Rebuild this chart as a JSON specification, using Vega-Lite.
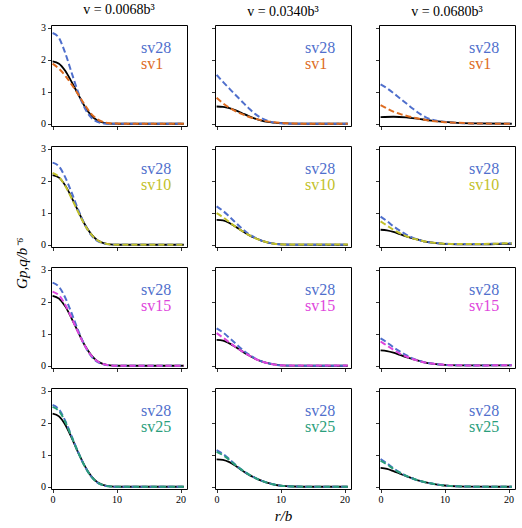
{
"$schema":"https://vega.github.io/schema/vega-lite/v6.json",
"padding":{"left":15,"top":2,"right":5,"bottom":2},
"title":{"text":"Gp,q/b⁻⁶","orient":"left","anchor":"middle","fontSize":15,"font":"Liberation Serif","fontStyle":"italic","fontWeight":"normal","offset":10},
"data":{"values":[
{"p":"11","s":"ref","x":0,"y":1.95},{"p":"11","s":"ref","x":1,"y":1.88},{"p":"11","s":"ref","x":2,"y":1.65},{"p":"11","s":"ref","x":3,"y":1.30},{"p":"11","s":"ref","x":4,"y":0.92},{"p":"11","s":"ref","x":5,"y":0.55},{"p":"11","s":"ref","x":6,"y":0.27},{"p":"11","s":"ref","x":7,"y":0.10},{"p":"11","s":"ref","x":8,"y":0.03},{"p":"11","s":"ref","x":9,"y":0.005},{"p":"11","s":"ref","x":10,"y":0},{"p":"11","s":"ref","x":20.5,"y":0},
{"p":"11","s":"sv28","x":0,"y":2.84},{"p":"11","s":"sv28","x":1,"y":2.68},{"p":"11","s":"sv28","x":2,"y":2.20},{"p":"11","s":"sv28","x":3,"y":1.58},{"p":"11","s":"sv28","x":4,"y":0.98},{"p":"11","s":"sv28","x":5,"y":0.50},{"p":"11","s":"sv28","x":6,"y":0.20},{"p":"11","s":"sv28","x":7,"y":0.06},{"p":"11","s":"sv28","x":8,"y":0.01},{"p":"11","s":"sv28","x":9,"y":0},{"p":"11","s":"sv28","x":20.5,"y":0},
{"p":"11","s":"sv1","x":0,"y":1.88},{"p":"11","s":"sv1","x":1,"y":1.72},{"p":"11","s":"sv1","x":2,"y":1.50},{"p":"11","s":"sv1","x":3,"y":1.22},{"p":"11","s":"sv1","x":4,"y":0.92},{"p":"11","s":"sv1","x":5,"y":0.60},{"p":"11","s":"sv1","x":6,"y":0.32},{"p":"11","s":"sv1","x":7,"y":0.14},{"p":"11","s":"sv1","x":8,"y":0.05},{"p":"11","s":"sv1","x":9,"y":0.015},{"p":"11","s":"sv1","x":10,"y":0.005},{"p":"11","s":"sv1","x":12,"y":0},{"p":"11","s":"sv1","x":20.5,"y":0},
{"p":"12","s":"ref","x":0,"y":0.54},{"p":"12","s":"ref","x":1,"y":0.53},{"p":"12","s":"ref","x":2,"y":0.49},{"p":"12","s":"ref","x":3,"y":0.42},{"p":"12","s":"ref","x":4,"y":0.33},{"p":"12","s":"ref","x":5,"y":0.24},{"p":"12","s":"ref","x":6,"y":0.16},{"p":"12","s":"ref","x":7,"y":0.10},{"p":"12","s":"ref","x":8,"y":0.06},{"p":"12","s":"ref","x":10,"y":0.02},{"p":"12","s":"ref","x":12,"y":0.005},{"p":"12","s":"ref","x":15,"y":0},{"p":"12","s":"ref","x":20.5,"y":0},
{"p":"12","s":"sv28","x":0,"y":1.53},{"p":"12","s":"sv28","x":1,"y":1.31},{"p":"12","s":"sv28","x":2,"y":1.10},{"p":"12","s":"sv28","x":3,"y":0.89},{"p":"12","s":"sv28","x":4,"y":0.69},{"p":"12","s":"sv28","x":5,"y":0.49},{"p":"12","s":"sv28","x":6,"y":0.31},{"p":"12","s":"sv28","x":7,"y":0.18},{"p":"12","s":"sv28","x":8,"y":0.09},{"p":"12","s":"sv28","x":9,"y":0.04},{"p":"12","s":"sv28","x":10,"y":0.015},{"p":"12","s":"sv28","x":12,"y":0},{"p":"12","s":"sv28","x":20.5,"y":0},
{"p":"12","s":"sv1","x":0,"y":0.81},{"p":"12","s":"sv1","x":1,"y":0.64},{"p":"12","s":"sv1","x":2,"y":0.50},{"p":"12","s":"sv1","x":3,"y":0.39},{"p":"12","s":"sv1","x":4,"y":0.30},{"p":"12","s":"sv1","x":5,"y":0.22},{"p":"12","s":"sv1","x":6,"y":0.16},{"p":"12","s":"sv1","x":7,"y":0.11},{"p":"12","s":"sv1","x":8,"y":0.075},{"p":"12","s":"sv1","x":10,"y":0.03},{"p":"12","s":"sv1","x":12,"y":0.01},{"p":"12","s":"sv1","x":15,"y":0},{"p":"12","s":"sv1","x":20.5,"y":0},
{"p":"13","s":"ref","x":0,"y":0.21},{"p":"13","s":"ref","x":2,"y":0.22},{"p":"13","s":"ref","x":4,"y":0.20},{"p":"13","s":"ref","x":6,"y":0.15},{"p":"13","s":"ref","x":8,"y":0.10},{"p":"13","s":"ref","x":10,"y":0.06},{"p":"13","s":"ref","x":12,"y":0.03},{"p":"13","s":"ref","x":15,"y":0.01},{"p":"13","s":"ref","x":20.5,"y":0},
{"p":"13","s":"sv28","x":0,"y":1.23},{"p":"13","s":"sv28","x":1,"y":1.11},{"p":"13","s":"sv28","x":2,"y":0.96},{"p":"13","s":"sv28","x":3,"y":0.80},{"p":"13","s":"sv28","x":4,"y":0.64},{"p":"13","s":"sv28","x":5,"y":0.48},{"p":"13","s":"sv28","x":6,"y":0.33},{"p":"13","s":"sv28","x":7,"y":0.21},{"p":"13","s":"sv28","x":8,"y":0.13},{"p":"13","s":"sv28","x":9,"y":0.09},{"p":"13","s":"sv28","x":10,"y":0.06},{"p":"13","s":"sv28","x":12,"y":0.025},{"p":"13","s":"sv28","x":15,"y":0.008},{"p":"13","s":"sv28","x":20.5,"y":0},
{"p":"13","s":"sv1","x":0,"y":0.58},{"p":"13","s":"sv1","x":1,"y":0.48},{"p":"13","s":"sv1","x":2,"y":0.38},{"p":"13","s":"sv1","x":3,"y":0.31},{"p":"13","s":"sv1","x":4,"y":0.25},{"p":"13","s":"sv1","x":5,"y":0.20},{"p":"13","s":"sv1","x":6,"y":0.16},{"p":"13","s":"sv1","x":7,"y":0.12},{"p":"13","s":"sv1","x":8,"y":0.09},{"p":"13","s":"sv1","x":10,"y":0.05},{"p":"13","s":"sv1","x":12,"y":0.03},{"p":"13","s":"sv1","x":15,"y":0.01},{"p":"13","s":"sv1","x":20.5,"y":0},
{"p":"21","s":"ref","x":0,"y":2.18},{"p":"21","s":"ref","x":1,"y":2.10},{"p":"21","s":"ref","x":2,"y":1.85},{"p":"21","s":"ref","x":3,"y":1.47},{"p":"21","s":"ref","x":4,"y":1.05},{"p":"21","s":"ref","x":5,"y":0.65},{"p":"21","s":"ref","x":6,"y":0.34},{"p":"21","s":"ref","x":7,"y":0.14},{"p":"21","s":"ref","x":8,"y":0.05},{"p":"21","s":"ref","x":9,"y":0.01},{"p":"21","s":"ref","x":10,"y":0},{"p":"21","s":"ref","x":20.5,"y":0},
{"p":"21","s":"sv28","x":0,"y":2.57},{"p":"21","s":"sv28","x":1,"y":2.45},{"p":"21","s":"sv28","x":2,"y":2.10},{"p":"21","s":"sv28","x":3,"y":1.62},{"p":"21","s":"sv28","x":4,"y":1.10},{"p":"21","s":"sv28","x":5,"y":0.64},{"p":"21","s":"sv28","x":6,"y":0.31},{"p":"21","s":"sv28","x":7,"y":0.12},{"p":"21","s":"sv28","x":8,"y":0.04},{"p":"21","s":"sv28","x":9,"y":0.01},{"p":"21","s":"sv28","x":10,"y":0},{"p":"21","s":"sv28","x":20.5,"y":0},
{"p":"21","s":"sv10","x":0,"y":2.25},{"p":"21","s":"sv10","x":1,"y":2.12},{"p":"21","s":"sv10","x":2,"y":1.83},{"p":"21","s":"sv10","x":3,"y":1.44},{"p":"21","s":"sv10","x":4,"y":1.02},{"p":"21","s":"sv10","x":5,"y":0.63},{"p":"21","s":"sv10","x":6,"y":0.33},{"p":"21","s":"sv10","x":7,"y":0.14},{"p":"21","s":"sv10","x":8,"y":0.05},{"p":"21","s":"sv10","x":9,"y":0.01},{"p":"21","s":"sv10","x":10,"y":0},{"p":"21","s":"sv10","x":20.5,"y":0},
{"p":"22","s":"ref","x":0,"y":0.78},{"p":"22","s":"ref","x":1,"y":0.76},{"p":"22","s":"ref","x":2,"y":0.68},{"p":"22","s":"ref","x":3,"y":0.56},{"p":"22","s":"ref","x":4,"y":0.43},{"p":"22","s":"ref","x":5,"y":0.31},{"p":"22","s":"ref","x":6,"y":0.21},{"p":"22","s":"ref","x":7,"y":0.13},{"p":"22","s":"ref","x":8,"y":0.07},{"p":"22","s":"ref","x":9,"y":0.035},{"p":"22","s":"ref","x":10,"y":0.015},{"p":"22","s":"ref","x":12,"y":0.003},{"p":"22","s":"ref","x":20.5,"y":0},
{"p":"22","s":"sv28","x":0,"y":1.20},{"p":"22","s":"sv28","x":1,"y":1.06},{"p":"22","s":"sv28","x":2,"y":0.88},{"p":"22","s":"sv28","x":3,"y":0.69},{"p":"22","s":"sv28","x":4,"y":0.50},{"p":"22","s":"sv28","x":5,"y":0.34},{"p":"22","s":"sv28","x":6,"y":0.22},{"p":"22","s":"sv28","x":7,"y":0.13},{"p":"22","s":"sv28","x":8,"y":0.07},{"p":"22","s":"sv28","x":9,"y":0.035},{"p":"22","s":"sv28","x":10,"y":0.015},{"p":"22","s":"sv28","x":12,"y":0},{"p":"22","s":"sv28","x":20.5,"y":0},
{"p":"22","s":"sv10","x":0,"y":0.99},{"p":"22","s":"sv10","x":1,"y":0.86},{"p":"22","s":"sv10","x":2,"y":0.71},{"p":"22","s":"sv10","x":3,"y":0.56},{"p":"22","s":"sv10","x":4,"y":0.43},{"p":"22","s":"sv10","x":5,"y":0.31},{"p":"22","s":"sv10","x":6,"y":0.21},{"p":"22","s":"sv10","x":7,"y":0.13},{"p":"22","s":"sv10","x":8,"y":0.07},{"p":"22","s":"sv10","x":9,"y":0.035},{"p":"22","s":"sv10","x":10,"y":0.015},{"p":"22","s":"sv10","x":12,"y":0.005},{"p":"22","s":"sv10","x":20.5,"y":0.01},
{"p":"23","s":"ref","x":0,"y":0.47},{"p":"23","s":"ref","x":1,"y":0.45},{"p":"23","s":"ref","x":2,"y":0.40},{"p":"23","s":"ref","x":3,"y":0.33},{"p":"23","s":"ref","x":4,"y":0.26},{"p":"23","s":"ref","x":5,"y":0.20},{"p":"23","s":"ref","x":6,"y":0.15},{"p":"23","s":"ref","x":7,"y":0.10},{"p":"23","s":"ref","x":8,"y":0.07},{"p":"23","s":"ref","x":10,"y":0.03},{"p":"23","s":"ref","x":12,"y":0.015},{"p":"23","s":"ref","x":15,"y":0.01},{"p":"23","s":"ref","x":18,"y":0.02},{"p":"23","s":"ref","x":20.5,"y":0.03},
{"p":"23","s":"sv28","x":0,"y":0.88},{"p":"23","s":"sv28","x":1,"y":0.74},{"p":"23","s":"sv28","x":2,"y":0.58},{"p":"23","s":"sv28","x":3,"y":0.44},{"p":"23","s":"sv28","x":4,"y":0.32},{"p":"23","s":"sv28","x":5,"y":0.22},{"p":"23","s":"sv28","x":6,"y":0.15},{"p":"23","s":"sv28","x":7,"y":0.10},{"p":"23","s":"sv28","x":8,"y":0.07},{"p":"23","s":"sv28","x":10,"y":0.03},{"p":"23","s":"sv28","x":12,"y":0.02},{"p":"23","s":"sv28","x":15,"y":0.02},{"p":"23","s":"sv28","x":18,"y":0.035},{"p":"23","s":"sv28","x":20.5,"y":0.05},
{"p":"23","s":"sv10","x":0,"y":0.73},{"p":"23","s":"sv10","x":1,"y":0.60},{"p":"23","s":"sv10","x":2,"y":0.47},{"p":"23","s":"sv10","x":3,"y":0.36},{"p":"23","s":"sv10","x":4,"y":0.27},{"p":"23","s":"sv10","x":5,"y":0.20},{"p":"23","s":"sv10","x":6,"y":0.15},{"p":"23","s":"sv10","x":7,"y":0.10},{"p":"23","s":"sv10","x":8,"y":0.07},{"p":"23","s":"sv10","x":10,"y":0.03},{"p":"23","s":"sv10","x":12,"y":0.02},{"p":"23","s":"sv10","x":15,"y":0.02},{"p":"23","s":"sv10","x":18,"y":0.035},{"p":"23","s":"sv10","x":20.5,"y":0.05},
{"p":"31","s":"ref","x":0,"y":2.19},{"p":"31","s":"ref","x":1,"y":2.10},{"p":"31","s":"ref","x":2,"y":1.85},{"p":"31","s":"ref","x":3,"y":1.47},{"p":"31","s":"ref","x":4,"y":1.05},{"p":"31","s":"ref","x":5,"y":0.65},{"p":"31","s":"ref","x":6,"y":0.34},{"p":"31","s":"ref","x":7,"y":0.14},{"p":"31","s":"ref","x":8,"y":0.05},{"p":"31","s":"ref","x":9,"y":0.01},{"p":"31","s":"ref","x":10,"y":0},{"p":"31","s":"ref","x":20.5,"y":0},
{"p":"31","s":"sv28","x":0,"y":2.60},{"p":"31","s":"sv28","x":1,"y":2.47},{"p":"31","s":"sv28","x":2,"y":2.12},{"p":"31","s":"sv28","x":3,"y":1.63},{"p":"31","s":"sv28","x":4,"y":1.10},{"p":"31","s":"sv28","x":5,"y":0.64},{"p":"31","s":"sv28","x":6,"y":0.31},{"p":"31","s":"sv28","x":7,"y":0.12},{"p":"31","s":"sv28","x":8,"y":0.04},{"p":"31","s":"sv28","x":9,"y":0.01},{"p":"31","s":"sv28","x":10,"y":0},{"p":"31","s":"sv28","x":20.5,"y":0},
{"p":"31","s":"sv15","x":0,"y":2.32},{"p":"31","s":"sv15","x":1,"y":2.20},{"p":"31","s":"sv15","x":2,"y":1.90},{"p":"31","s":"sv15","x":3,"y":1.48},{"p":"31","s":"sv15","x":4,"y":1.04},{"p":"31","s":"sv15","x":5,"y":0.64},{"p":"31","s":"sv15","x":6,"y":0.33},{"p":"31","s":"sv15","x":7,"y":0.14},{"p":"31","s":"sv15","x":8,"y":0.05},{"p":"31","s":"sv15","x":9,"y":0.01},{"p":"31","s":"sv15","x":10,"y":0},{"p":"31","s":"sv15","x":20.5,"y":0},
{"p":"32","s":"ref","x":0,"y":0.81},{"p":"32","s":"ref","x":1,"y":0.79},{"p":"32","s":"ref","x":2,"y":0.70},{"p":"32","s":"ref","x":3,"y":0.58},{"p":"32","s":"ref","x":4,"y":0.45},{"p":"32","s":"ref","x":5,"y":0.33},{"p":"32","s":"ref","x":6,"y":0.22},{"p":"32","s":"ref","x":7,"y":0.14},{"p":"32","s":"ref","x":8,"y":0.08},{"p":"32","s":"ref","x":9,"y":0.04},{"p":"32","s":"ref","x":10,"y":0.015},{"p":"32","s":"ref","x":12,"y":0.003},{"p":"32","s":"ref","x":20.5,"y":0},
{"p":"32","s":"sv28","x":0,"y":1.17},{"p":"32","s":"sv28","x":1,"y":1.04},{"p":"32","s":"sv28","x":2,"y":0.87},{"p":"32","s":"sv28","x":3,"y":0.69},{"p":"32","s":"sv28","x":4,"y":0.51},{"p":"32","s":"sv28","x":5,"y":0.36},{"p":"32","s":"sv28","x":6,"y":0.23},{"p":"32","s":"sv28","x":7,"y":0.14},{"p":"32","s":"sv28","x":8,"y":0.08},{"p":"32","s":"sv28","x":9,"y":0.04},{"p":"32","s":"sv28","x":10,"y":0.015},{"p":"32","s":"sv28","x":12,"y":0},{"p":"32","s":"sv28","x":20.5,"y":0},
{"p":"32","s":"sv15","x":0,"y":1.02},{"p":"32","s":"sv15","x":1,"y":0.88},{"p":"32","s":"sv15","x":2,"y":0.73},{"p":"32","s":"sv15","x":3,"y":0.58},{"p":"32","s":"sv15","x":4,"y":0.45},{"p":"32","s":"sv15","x":5,"y":0.33},{"p":"32","s":"sv15","x":6,"y":0.22},{"p":"32","s":"sv15","x":7,"y":0.14},{"p":"32","s":"sv15","x":8,"y":0.08},{"p":"32","s":"sv15","x":9,"y":0.04},{"p":"32","s":"sv15","x":10,"y":0.015},{"p":"32","s":"sv15","x":12,"y":0.005},{"p":"32","s":"sv15","x":20.5,"y":0.01},
{"p":"33","s":"ref","x":0,"y":0.48},{"p":"33","s":"ref","x":1,"y":0.46},{"p":"33","s":"ref","x":2,"y":0.41},{"p":"33","s":"ref","x":3,"y":0.34},{"p":"33","s":"ref","x":4,"y":0.27},{"p":"33","s":"ref","x":5,"y":0.21},{"p":"33","s":"ref","x":6,"y":0.15},{"p":"33","s":"ref","x":7,"y":0.10},{"p":"33","s":"ref","x":8,"y":0.07},{"p":"33","s":"ref","x":10,"y":0.03},{"p":"33","s":"ref","x":12,"y":0.015},{"p":"33","s":"ref","x":15,"y":0.01},{"p":"33","s":"ref","x":20.5,"y":0.01},
{"p":"33","s":"sv28","x":0,"y":0.86},{"p":"33","s":"sv28","x":1,"y":0.73},{"p":"33","s":"sv28","x":2,"y":0.58},{"p":"33","s":"sv28","x":3,"y":0.45},{"p":"33","s":"sv28","x":4,"y":0.33},{"p":"33","s":"sv28","x":5,"y":0.23},{"p":"33","s":"sv28","x":6,"y":0.16},{"p":"33","s":"sv28","x":7,"y":0.10},{"p":"33","s":"sv28","x":8,"y":0.07},{"p":"33","s":"sv28","x":10,"y":0.03},{"p":"33","s":"sv28","x":12,"y":0.015},{"p":"33","s":"sv28","x":15,"y":0.01},{"p":"33","s":"sv28","x":20.5,"y":0.02},
{"p":"33","s":"sv15","x":0,"y":0.76},{"p":"33","s":"sv15","x":1,"y":0.63},{"p":"33","s":"sv15","x":2,"y":0.50},{"p":"33","s":"sv15","x":3,"y":0.38},{"p":"33","s":"sv15","x":4,"y":0.29},{"p":"33","s":"sv15","x":5,"y":0.21},{"p":"33","s":"sv15","x":6,"y":0.15},{"p":"33","s":"sv15","x":7,"y":0.10},{"p":"33","s":"sv15","x":8,"y":0.07},{"p":"33","s":"sv15","x":10,"y":0.03},{"p":"33","s":"sv15","x":12,"y":0.015},{"p":"33","s":"sv15","x":15,"y":0.01},{"p":"33","s":"sv15","x":20.5,"y":0.02},
{"p":"41","s":"ref","x":0,"y":2.29},{"p":"41","s":"ref","x":1,"y":2.20},{"p":"41","s":"ref","x":2,"y":1.93},{"p":"41","s":"ref","x":3,"y":1.52},{"p":"41","s":"ref","x":4,"y":1.07},{"p":"41","s":"ref","x":5,"y":0.66},{"p":"41","s":"ref","x":6,"y":0.34},{"p":"41","s":"ref","x":7,"y":0.14},{"p":"41","s":"ref","x":8,"y":0.05},{"p":"41","s":"ref","x":9,"y":0.01},{"p":"41","s":"ref","x":10,"y":0},{"p":"41","s":"ref","x":20.5,"y":0},
{"p":"41","s":"sv28","x":0,"y":2.56},{"p":"41","s":"sv28","x":1,"y":2.42},{"p":"41","s":"sv28","x":2,"y":2.05},{"p":"41","s":"sv28","x":3,"y":1.57},{"p":"41","s":"sv28","x":4,"y":1.08},{"p":"41","s":"sv28","x":5,"y":0.65},{"p":"41","s":"sv28","x":6,"y":0.33},{"p":"41","s":"sv28","x":7,"y":0.13},{"p":"41","s":"sv28","x":8,"y":0.04},{"p":"41","s":"sv28","x":9,"y":0.01},{"p":"41","s":"sv28","x":10,"y":0},{"p":"41","s":"sv28","x":20.5,"y":0},
{"p":"41","s":"sv25","x":0,"y":2.50},{"p":"41","s":"sv25","x":1,"y":2.37},{"p":"41","s":"sv25","x":2,"y":2.02},{"p":"41","s":"sv25","x":3,"y":1.55},{"p":"41","s":"sv25","x":4,"y":1.07},{"p":"41","s":"sv25","x":5,"y":0.65},{"p":"41","s":"sv25","x":6,"y":0.33},{"p":"41","s":"sv25","x":7,"y":0.13},{"p":"41","s":"sv25","x":8,"y":0.045},{"p":"41","s":"sv25","x":9,"y":0.01},{"p":"41","s":"sv25","x":10,"y":0},{"p":"41","s":"sv25","x":20.5,"y":0},
{"p":"42","s":"ref","x":0,"y":0.86},{"p":"42","s":"ref","x":1,"y":0.84},{"p":"42","s":"ref","x":2,"y":0.77},{"p":"42","s":"ref","x":3,"y":0.65},{"p":"42","s":"ref","x":4,"y":0.51},{"p":"42","s":"ref","x":5,"y":0.38},{"p":"42","s":"ref","x":6,"y":0.28},{"p":"42","s":"ref","x":7,"y":0.19},{"p":"42","s":"ref","x":8,"y":0.12},{"p":"42","s":"ref","x":9,"y":0.07},{"p":"42","s":"ref","x":10,"y":0.035},{"p":"42","s":"ref","x":12,"y":0.008},{"p":"42","s":"ref","x":15,"y":0},{"p":"42","s":"ref","x":20.5,"y":0},
{"p":"42","s":"sv28","x":0,"y":1.15},{"p":"42","s":"sv28","x":1,"y":1.03},{"p":"42","s":"sv28","x":2,"y":0.86},{"p":"42","s":"sv28","x":3,"y":0.68},{"p":"42","s":"sv28","x":4,"y":0.52},{"p":"42","s":"sv28","x":5,"y":0.39},{"p":"42","s":"sv28","x":6,"y":0.28},{"p":"42","s":"sv28","x":7,"y":0.19},{"p":"42","s":"sv28","x":8,"y":0.12},{"p":"42","s":"sv28","x":9,"y":0.07},{"p":"42","s":"sv28","x":10,"y":0.035},{"p":"42","s":"sv28","x":12,"y":0.008},{"p":"42","s":"sv28","x":15,"y":0},{"p":"42","s":"sv28","x":20.5,"y":0},
{"p":"42","s":"sv25","x":0,"y":1.09},{"p":"42","s":"sv25","x":1,"y":0.99},{"p":"42","s":"sv25","x":2,"y":0.84},{"p":"42","s":"sv25","x":3,"y":0.67},{"p":"42","s":"sv25","x":4,"y":0.52},{"p":"42","s":"sv25","x":5,"y":0.39},{"p":"42","s":"sv25","x":6,"y":0.28},{"p":"42","s":"sv25","x":7,"y":0.19},{"p":"42","s":"sv25","x":8,"y":0.12},{"p":"42","s":"sv25","x":9,"y":0.07},{"p":"42","s":"sv25","x":10,"y":0.035},{"p":"42","s":"sv25","x":12,"y":0.008},{"p":"42","s":"sv25","x":15,"y":0},{"p":"42","s":"sv25","x":20.5,"y":0},
{"p":"43","s":"ref","x":0,"y":0.59},{"p":"43","s":"ref","x":1,"y":0.56},{"p":"43","s":"ref","x":2,"y":0.49},{"p":"43","s":"ref","x":3,"y":0.41},{"p":"43","s":"ref","x":4,"y":0.33},{"p":"43","s":"ref","x":5,"y":0.26},{"p":"43","s":"ref","x":6,"y":0.19},{"p":"43","s":"ref","x":7,"y":0.14},{"p":"43","s":"ref","x":8,"y":0.10},{"p":"43","s":"ref","x":10,"y":0.04},{"p":"43","s":"ref","x":12,"y":0.015},{"p":"43","s":"ref","x":15,"y":0.003},{"p":"43","s":"ref","x":20.5,"y":0},
{"p":"43","s":"sv28","x":0,"y":0.87},{"p":"43","s":"sv28","x":1,"y":0.73},{"p":"43","s":"sv28","x":2,"y":0.58},{"p":"43","s":"sv28","x":3,"y":0.45},{"p":"43","s":"sv28","x":4,"y":0.34},{"p":"43","s":"sv28","x":5,"y":0.26},{"p":"43","s":"sv28","x":6,"y":0.19},{"p":"43","s":"sv28","x":7,"y":0.14},{"p":"43","s":"sv28","x":8,"y":0.10},{"p":"43","s":"sv28","x":10,"y":0.04},{"p":"43","s":"sv28","x":12,"y":0.015},{"p":"43","s":"sv28","x":15,"y":0.003},{"p":"43","s":"sv28","x":20.5,"y":0},
{"p":"43","s":"sv25","x":0,"y":0.82},{"p":"43","s":"sv25","x":1,"y":0.70},{"p":"43","s":"sv25","x":2,"y":0.56},{"p":"43","s":"sv25","x":3,"y":0.44},{"p":"43","s":"sv25","x":4,"y":0.34},{"p":"43","s":"sv25","x":5,"y":0.26},{"p":"43","s":"sv25","x":6,"y":0.19},{"p":"43","s":"sv25","x":7,"y":0.14},{"p":"43","s":"sv25","x":8,"y":0.10},{"p":"43","s":"sv25","x":10,"y":0.04},{"p":"43","s":"sv25","x":12,"y":0.015},{"p":"43","s":"sv25","x":15,"y":0.003},{"p":"43","s":"sv25","x":20.5,"y":0}
]},
"resolve":{"scale":{"color":"independent"},"legend":{"color":"independent"}},
"spacing":12,
"vconcat":[
{"hconcat":[
{"width":136,"height":101,"title":{"text":"v = 0.0068b³","fontWeight":"normal"},"transform":[{"filter":"datum.p=='11'"}],
 "encoding":{"x":{"field":"x","type":"quantitative","scale":{"domain":[-0.25,21],"nice":false,"zero":false},"axis":{"values":[0,10,20],"labels":false,"title":null}},
  "y":{"field":"y","type":"quantitative","scale":{"domain":[-0.07,3.09],"nice":false,"zero":false},"axis":{"values":[0,1,2,3],"labels":true,"title":null}},
  "color":{"field":"s","type":"nominal","scale":{"domain":["sv28","sv1"],"range":["#4f6fcc","#dd6b1f"]},"legend":{"encode":{"labels":{"update":{"fill":{"signal":"datum.value=='sv28'?'#4f6fcc':'#dd6b1f'"}}}}}}},
 "layer":[
  {"transform":[{"filter":"datum.s=='ref'"}],"mark":{"type":"line","strokeWidth":1.8,"interpolate":"monotone"},"encoding":{"color":{"value":"black"}}},
  {"transform":[{"filter":"datum.s=='sv28'"}],"mark":{"type":"line","strokeWidth":2,"strokeDash":[6,3],"interpolate":"monotone"}},
  {"transform":[{"filter":"datum.s!='ref' && datum.s!='sv28'"}],"mark":{"type":"line","strokeWidth":2,"strokeDash":[6,3],"interpolate":"monotone"}}]},
{"width":136,"height":101,"title":{"text":"v = 0.0340b³","fontWeight":"normal"},"transform":[{"filter":"datum.p=='12'"}],
 "encoding":{"x":{"field":"x","type":"quantitative","scale":{"domain":[-0.25,21],"nice":false,"zero":false},"axis":{"values":[0,10,20],"labels":false,"title":null}},
  "y":{"field":"y","type":"quantitative","scale":{"domain":[-0.07,3.09],"nice":false,"zero":false},"axis":{"values":[0,1,2,3],"labels":false,"title":null}},
  "color":{"field":"s","type":"nominal","scale":{"domain":["sv28","sv1"],"range":["#4f6fcc","#dd6b1f"]},"legend":{"encode":{"labels":{"update":{"fill":{"signal":"datum.value=='sv28'?'#4f6fcc':'#dd6b1f'"}}}}}}},
 "layer":[
  {"transform":[{"filter":"datum.s=='ref'"}],"mark":{"type":"line","strokeWidth":1.8,"interpolate":"monotone"},"encoding":{"color":{"value":"black"}}},
  {"transform":[{"filter":"datum.s=='sv28'"}],"mark":{"type":"line","strokeWidth":2,"strokeDash":[6,3],"interpolate":"monotone"}},
  {"transform":[{"filter":"datum.s!='ref' && datum.s!='sv28'"}],"mark":{"type":"line","strokeWidth":2,"strokeDash":[6,3],"interpolate":"monotone"}}]},
{"width":136,"height":101,"title":{"text":"v = 0.0680b³","fontWeight":"normal"},"transform":[{"filter":"datum.p=='13'"}],
 "encoding":{"x":{"field":"x","type":"quantitative","scale":{"domain":[-0.25,21],"nice":false,"zero":false},"axis":{"values":[0,10,20],"labels":false,"title":null}},
  "y":{"field":"y","type":"quantitative","scale":{"domain":[-0.07,3.09],"nice":false,"zero":false},"axis":{"values":[0,1,2,3],"labels":false,"title":null}},
  "color":{"field":"s","type":"nominal","scale":{"domain":["sv28","sv1"],"range":["#4f6fcc","#dd6b1f"]},"legend":{"encode":{"labels":{"update":{"fill":{"signal":"datum.value=='sv28'?'#4f6fcc':'#dd6b1f'"}}}}}}},
 "layer":[
  {"transform":[{"filter":"datum.s=='ref'"}],"mark":{"type":"line","strokeWidth":1.8,"interpolate":"monotone"},"encoding":{"color":{"value":"black"}}},
  {"transform":[{"filter":"datum.s=='sv28'"}],"mark":{"type":"line","strokeWidth":2,"strokeDash":[6,3],"interpolate":"monotone"}},
  {"transform":[{"filter":"datum.s!='ref' && datum.s!='sv28'"}],"mark":{"type":"line","strokeWidth":2,"strokeDash":[6,3],"interpolate":"monotone"}}]}
],"spacing":21,"resolve":{"scale":{"color":"independent"},"legend":{"color":"independent"}}},
{"hconcat":[
{"width":136,"height":101,"transform":[{"filter":"datum.p=='21'"}],
 "encoding":{"x":{"field":"x","type":"quantitative","scale":{"domain":[-0.25,21],"nice":false,"zero":false},"axis":{"values":[0,10,20],"labels":false,"title":null}},
  "y":{"field":"y","type":"quantitative","scale":{"domain":[-0.07,3.09],"nice":false,"zero":false},"axis":{"values":[0,1,2,3],"labels":true,"title":null}},
  "color":{"field":"s","type":"nominal","scale":{"domain":["sv28","sv10"],"range":["#4f6fcc","#c2c12a"]},"legend":{"encode":{"labels":{"update":{"fill":{"signal":"datum.value=='sv28'?'#4f6fcc':'#c2c12a'"}}}}}}},
 "layer":[
  {"transform":[{"filter":"datum.s=='ref'"}],"mark":{"type":"line","strokeWidth":1.8,"interpolate":"monotone"},"encoding":{"color":{"value":"black"}}},
  {"transform":[{"filter":"datum.s=='sv28'"}],"mark":{"type":"line","strokeWidth":2,"strokeDash":[6,3],"interpolate":"monotone"}},
  {"transform":[{"filter":"datum.s!='ref' && datum.s!='sv28'"}],"mark":{"type":"line","strokeWidth":2,"strokeDash":[6,3],"interpolate":"monotone"}}]},
{"width":136,"height":101,"transform":[{"filter":"datum.p=='22'"}],
 "encoding":{"x":{"field":"x","type":"quantitative","scale":{"domain":[-0.25,21],"nice":false,"zero":false},"axis":{"values":[0,10,20],"labels":false,"title":null}},
  "y":{"field":"y","type":"quantitative","scale":{"domain":[-0.07,3.09],"nice":false,"zero":false},"axis":{"values":[0,1,2,3],"labels":false,"title":null}},
  "color":{"field":"s","type":"nominal","scale":{"domain":["sv28","sv10"],"range":["#4f6fcc","#c2c12a"]},"legend":{"encode":{"labels":{"update":{"fill":{"signal":"datum.value=='sv28'?'#4f6fcc':'#c2c12a'"}}}}}}},
 "layer":[
  {"transform":[{"filter":"datum.s=='ref'"}],"mark":{"type":"line","strokeWidth":1.8,"interpolate":"monotone"},"encoding":{"color":{"value":"black"}}},
  {"transform":[{"filter":"datum.s=='sv28'"}],"mark":{"type":"line","strokeWidth":2,"strokeDash":[6,3],"interpolate":"monotone"}},
  {"transform":[{"filter":"datum.s!='ref' && datum.s!='sv28'"}],"mark":{"type":"line","strokeWidth":2,"strokeDash":[6,3],"interpolate":"monotone"}}]},
{"width":136,"height":101,"transform":[{"filter":"datum.p=='23'"}],
 "encoding":{"x":{"field":"x","type":"quantitative","scale":{"domain":[-0.25,21],"nice":false,"zero":false},"axis":{"values":[0,10,20],"labels":false,"title":null}},
  "y":{"field":"y","type":"quantitative","scale":{"domain":[-0.07,3.09],"nice":false,"zero":false},"axis":{"values":[0,1,2,3],"labels":false,"title":null}},
  "color":{"field":"s","type":"nominal","scale":{"domain":["sv28","sv10"],"range":["#4f6fcc","#c2c12a"]},"legend":{"encode":{"labels":{"update":{"fill":{"signal":"datum.value=='sv28'?'#4f6fcc':'#c2c12a'"}}}}}}},
 "layer":[
  {"transform":[{"filter":"datum.s=='ref'"}],"mark":{"type":"line","strokeWidth":1.8,"interpolate":"monotone"},"encoding":{"color":{"value":"black"}}},
  {"transform":[{"filter":"datum.s=='sv28'"}],"mark":{"type":"line","strokeWidth":2,"strokeDash":[6,3],"interpolate":"monotone"}},
  {"transform":[{"filter":"datum.s!='ref' && datum.s!='sv28'"}],"mark":{"type":"line","strokeWidth":2,"strokeDash":[6,3],"interpolate":"monotone"}}]}
],"spacing":21,"resolve":{"scale":{"color":"independent"},"legend":{"color":"independent"}}},
{"hconcat":[
{"width":136,"height":101,"transform":[{"filter":"datum.p=='31'"}],
 "encoding":{"x":{"field":"x","type":"quantitative","scale":{"domain":[-0.25,21],"nice":false,"zero":false},"axis":{"values":[0,10,20],"labels":false,"title":null}},
  "y":{"field":"y","type":"quantitative","scale":{"domain":[-0.07,3.09],"nice":false,"zero":false},"axis":{"values":[0,1,2,3],"labels":true,"title":null}},
  "color":{"field":"s","type":"nominal","scale":{"domain":["sv28","sv15"],"range":["#4f6fcc","#de45dc"]},"legend":{"encode":{"labels":{"update":{"fill":{"signal":"datum.value=='sv28'?'#4f6fcc':'#de45dc'"}}}}}}},
 "layer":[
  {"transform":[{"filter":"datum.s=='ref'"}],"mark":{"type":"line","strokeWidth":1.8,"interpolate":"monotone"},"encoding":{"color":{"value":"black"}}},
  {"transform":[{"filter":"datum.s=='sv28'"}],"mark":{"type":"line","strokeWidth":2,"strokeDash":[6,3],"interpolate":"monotone"}},
  {"transform":[{"filter":"datum.s!='ref' && datum.s!='sv28'"}],"mark":{"type":"line","strokeWidth":2,"strokeDash":[6,3],"interpolate":"monotone"}}]},
{"width":136,"height":101,"transform":[{"filter":"datum.p=='32'"}],
 "encoding":{"x":{"field":"x","type":"quantitative","scale":{"domain":[-0.25,21],"nice":false,"zero":false},"axis":{"values":[0,10,20],"labels":false,"title":null}},
  "y":{"field":"y","type":"quantitative","scale":{"domain":[-0.07,3.09],"nice":false,"zero":false},"axis":{"values":[0,1,2,3],"labels":false,"title":null}},
  "color":{"field":"s","type":"nominal","scale":{"domain":["sv28","sv15"],"range":["#4f6fcc","#de45dc"]},"legend":{"encode":{"labels":{"update":{"fill":{"signal":"datum.value=='sv28'?'#4f6fcc':'#de45dc'"}}}}}}},
 "layer":[
  {"transform":[{"filter":"datum.s=='ref'"}],"mark":{"type":"line","strokeWidth":1.8,"interpolate":"monotone"},"encoding":{"color":{"value":"black"}}},
  {"transform":[{"filter":"datum.s=='sv28'"}],"mark":{"type":"line","strokeWidth":2,"strokeDash":[6,3],"interpolate":"monotone"}},
  {"transform":[{"filter":"datum.s!='ref' && datum.s!='sv28'"}],"mark":{"type":"line","strokeWidth":2,"strokeDash":[6,3],"interpolate":"monotone"}}]},
{"width":136,"height":101,"transform":[{"filter":"datum.p=='33'"}],
 "encoding":{"x":{"field":"x","type":"quantitative","scale":{"domain":[-0.25,21],"nice":false,"zero":false},"axis":{"values":[0,10,20],"labels":false,"title":null}},
  "y":{"field":"y","type":"quantitative","scale":{"domain":[-0.07,3.09],"nice":false,"zero":false},"axis":{"values":[0,1,2,3],"labels":false,"title":null}},
  "color":{"field":"s","type":"nominal","scale":{"domain":["sv28","sv15"],"range":["#4f6fcc","#de45dc"]},"legend":{"encode":{"labels":{"update":{"fill":{"signal":"datum.value=='sv28'?'#4f6fcc':'#de45dc'"}}}}}}},
 "layer":[
  {"transform":[{"filter":"datum.s=='ref'"}],"mark":{"type":"line","strokeWidth":1.8,"interpolate":"monotone"},"encoding":{"color":{"value":"black"}}},
  {"transform":[{"filter":"datum.s=='sv28'"}],"mark":{"type":"line","strokeWidth":2,"strokeDash":[6,3],"interpolate":"monotone"}},
  {"transform":[{"filter":"datum.s!='ref' && datum.s!='sv28'"}],"mark":{"type":"line","strokeWidth":2,"strokeDash":[6,3],"interpolate":"monotone"}}]}
],"spacing":21,"resolve":{"scale":{"color":"independent"},"legend":{"color":"independent"}}},
{"hconcat":[
{"width":136,"height":101,"transform":[{"filter":"datum.p=='41'"}],
 "encoding":{"x":{"field":"x","type":"quantitative","scale":{"domain":[-0.25,21],"nice":false,"zero":false},"axis":{"values":[0,10,20],"labels":true,"title":null}},
  "y":{"field":"y","type":"quantitative","scale":{"domain":[-0.07,3.09],"nice":false,"zero":false},"axis":{"values":[0,1,2,3],"labels":true,"title":null}},
  "color":{"field":"s","type":"nominal","scale":{"domain":["sv28","sv25"],"range":["#4f6fcc","#2a9e7c"]},"legend":{"encode":{"labels":{"update":{"fill":{"signal":"datum.value=='sv28'?'#4f6fcc':'#2a9e7c'"}}}}}}},
 "layer":[
  {"transform":[{"filter":"datum.s=='ref'"}],"mark":{"type":"line","strokeWidth":1.8,"interpolate":"monotone"},"encoding":{"color":{"value":"black"}}},
  {"transform":[{"filter":"datum.s=='sv28'"}],"mark":{"type":"line","strokeWidth":2,"strokeDash":[6,3],"interpolate":"monotone"}},
  {"transform":[{"filter":"datum.s!='ref' && datum.s!='sv28'"}],"mark":{"type":"line","strokeWidth":2,"strokeDash":[6,3],"interpolate":"monotone"}}]},
{"width":136,"height":101,"transform":[{"filter":"datum.p=='42'"}],
 "encoding":{"x":{"field":"x","type":"quantitative","scale":{"domain":[-0.25,21],"nice":false,"zero":false},"axis":{"values":[0,10,20],"labels":true,"title":"r/b","titleFontStyle":"italic"}},
  "y":{"field":"y","type":"quantitative","scale":{"domain":[-0.07,3.09],"nice":false,"zero":false},"axis":{"values":[0,1,2,3],"labels":false,"title":null}},
  "color":{"field":"s","type":"nominal","scale":{"domain":["sv28","sv25"],"range":["#4f6fcc","#2a9e7c"]},"legend":{"encode":{"labels":{"update":{"fill":{"signal":"datum.value=='sv28'?'#4f6fcc':'#2a9e7c'"}}}}}}},
 "layer":[
  {"transform":[{"filter":"datum.s=='ref'"}],"mark":{"type":"line","strokeWidth":1.8,"interpolate":"monotone"},"encoding":{"color":{"value":"black"}}},
  {"transform":[{"filter":"datum.s=='sv28'"}],"mark":{"type":"line","strokeWidth":2,"strokeDash":[6,3],"interpolate":"monotone"}},
  {"transform":[{"filter":"datum.s!='ref' && datum.s!='sv28'"}],"mark":{"type":"line","strokeWidth":2,"strokeDash":[6,3],"interpolate":"monotone"}}]},
{"width":136,"height":101,"transform":[{"filter":"datum.p=='43'"}],
 "encoding":{"x":{"field":"x","type":"quantitative","scale":{"domain":[-0.25,21],"nice":false,"zero":false},"axis":{"values":[0,10,20],"labels":true,"title":null}},
  "y":{"field":"y","type":"quantitative","scale":{"domain":[-0.07,3.09],"nice":false,"zero":false},"axis":{"values":[0,1,2,3],"labels":false,"title":null}},
  "color":{"field":"s","type":"nominal","scale":{"domain":["sv28","sv25"],"range":["#4f6fcc","#2a9e7c"]},"legend":{"encode":{"labels":{"update":{"fill":{"signal":"datum.value=='sv28'?'#4f6fcc':'#2a9e7c'"}}}}}}},
 "layer":[
  {"transform":[{"filter":"datum.s=='ref'"}],"mark":{"type":"line","strokeWidth":1.8,"interpolate":"monotone"},"encoding":{"color":{"value":"black"}}},
  {"transform":[{"filter":"datum.s=='sv28'"}],"mark":{"type":"line","strokeWidth":2,"strokeDash":[6,3],"interpolate":"monotone"}},
  {"transform":[{"filter":"datum.s!='ref' && datum.s!='sv28'"}],"mark":{"type":"line","strokeWidth":2,"strokeDash":[6,3],"interpolate":"monotone"}}]}
],"spacing":21,"resolve":{"scale":{"color":"independent"},"legend":{"color":"independent"}}}
],
"config":{
 "view":{"stroke":"black","strokeWidth":1},
 "axis":{"domain":false,"grid":false,"tickSize":3.5,"tickColor":"black","tickWidth":0.8,"labelFont":"Liberation Serif","labelFontSize":10,"labelColor":"black","labelPadding":2,"titleFont":"Liberation Serif","titleFontWeight":"normal","titleFontSize":15,"titleColor":"black","titlePadding":4},
 "title":{"font":"Liberation Serif","fontSize":14,"fontWeight":"normal","color":"black","offset":6},
 "legend":{"title":null,"orient":"top-right","offset":15,"padding":0,"symbolSize":0,"symbolOpacity":0,"symbolStrokeWidth":0,"symbolStrokeColor":"transparent","labelOffset":0,"labelFont":"Liberation Serif","labelFontSize":16,"rowPadding":0,"labelLimit":200}
}
}
